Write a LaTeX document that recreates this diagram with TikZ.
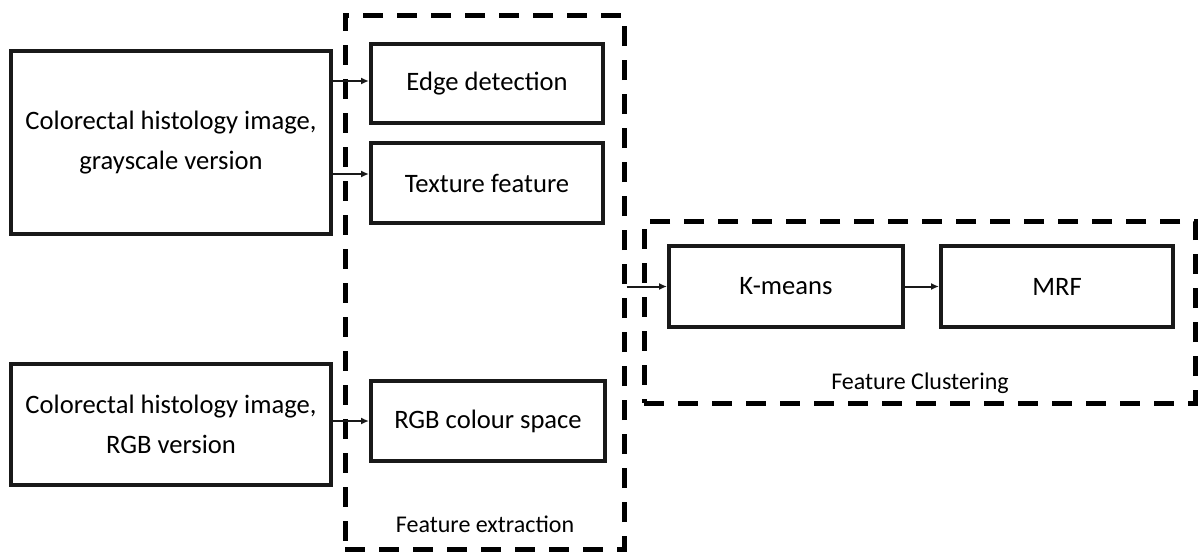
\documentclass[tikz,border=0pt]{standalone}
\usepackage{fontspec}
\setmainfont{Carlito}
\usetikzlibrary{arrows.meta,calc}
\begin{document}
\begin{tikzpicture}[x=1pt,y=-1pt,
  box/.style={draw=black!90, line width=4pt, align=center, inner sep=0pt,
    font=\fontsize{26.6}{40}\selectfont},
  group/.style={draw=black, line width=5pt, dash pattern=on 20pt off 14pt, inner sep=0pt},
  lbl/.style={font=\fontsize{24}{28}\selectfont, inner sep=0pt},
  arr/.style={draw=black!90, line width=2pt, -{Latex[length=8pt,width=7pt]}}]
\useasboundingbox (0,0) rectangle (1198,554);
% dashed groups
\node[group, minimum width=279, minimum height=534] (fe) at (484.5,282) {};
\node[group, minimum width=551, minimum height=182] (fc) at (919.5,312) {};
% boxes
\node[box, minimum width=320, minimum height=183] (gray) at (171,142.5) {Colorectal histology image,\\grayscale version};
\node[box, minimum width=320, minimum height=121] (rgbv) at (171,424.5) {Colorectal histology image,\\RGB version};
\node[box, minimum width=232, minimum height=79] (edge) at (487,83.5) {Edge detection};
\node[box, minimum width=232, minimum height=80] (tex) at (487,183) {Texture feature};
\node[box, minimum width=234, minimum height=80] (rgbc) at (488,421) {RGB colour space};
\node[box, minimum width=234, minimum height=81] (km) at (786,286.5) {K-means};
\node[box, minimum width=232, minimum height=81] (mrf) at (1057,286.5) {MRF};
% labels
\node[lbl] (fel) at (485,524) {Feature extraction};
\node[lbl] (fcl) at (920,383) {Feature Clustering};
% arrows
\draw[arr] ([yshift=2.5pt]edge.west -| gray.east) -- ([yshift=2.5pt]edge.west);
\draw[arr] ([yshift=9pt]tex.west -| gray.east) -- ([yshift=9pt]tex.west);
\draw[arr] (rgbc.west -| rgbv.east) -- (rgbc.west);
\draw[arr] (km.west -| fe.east) -- (km.west);
\draw[arr] (km.east) -- (mrf.west);
\end{tikzpicture}
\end{document}
